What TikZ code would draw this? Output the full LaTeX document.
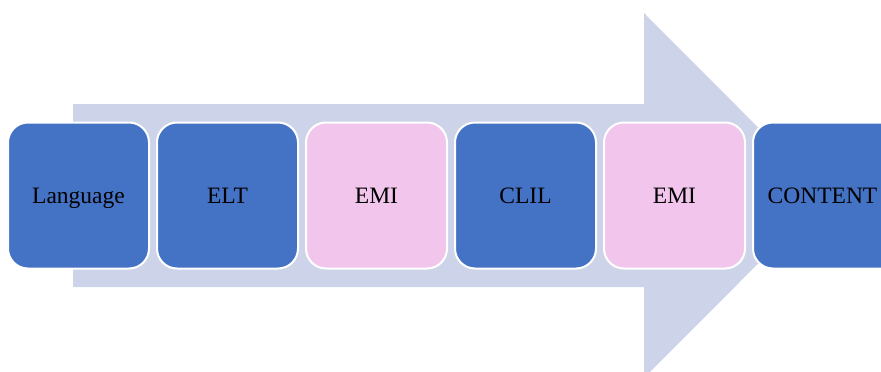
\documentclass[tikz,border=0pt]{standalone}
\usepackage{fontspec}
\setmainfont{Liberation Serif}
\definecolor{arrowfill}{HTML}{CDD4EA}
\definecolor{stepblue}{HTML}{4472C4}
\definecolor{steppink}{HTML}{F1C5EC}
\tikzset{
  stage/.style={draw=white, line width=2pt, rounded corners=20pt,
    minimum width=141pt, minimum height=146pt, inner sep=0pt,
    text height=15.5pt, text depth=0pt,
    font=\fontsize{23.5}{28}\selectfont, text=black},
  bluestage/.style={stage, fill=stepblue},
  pinkstage/.style={stage, fill=steppink}
}
\begin{document}
\begin{tikzpicture}[x=1pt, y=-1pt]
  \useasboundingbox (0,0) rectangle (881,372);
  \clip (0,0) rectangle (881,372);
  % background arrow
  \fill[arrowfill] (73,104) -- (644,104) -- (644,13) -- (826,195.5)
    -- (644,378) -- (644,287) -- (73,287) -- cycle;
  % stages
  \node[bluestage] (s1) at (78.5,195.5) {Language};
  \node[bluestage] (s2) at (227.5,195.5) {ELT};
  \node[pinkstage] (s3) at (376.5,195.5) {EMI};
  \node[bluestage] (s4) at (525.5,195.5) {CLIL};
  \node[pinkstage] (s5) at (674.5,195.5) {EMI};
  \node[bluestage, minimum width=160pt, text width=141pt, align=center] (s6) at (833,195.5) {\hspace*{-21pt}CONTENT};
\end{tikzpicture}
\end{document}
